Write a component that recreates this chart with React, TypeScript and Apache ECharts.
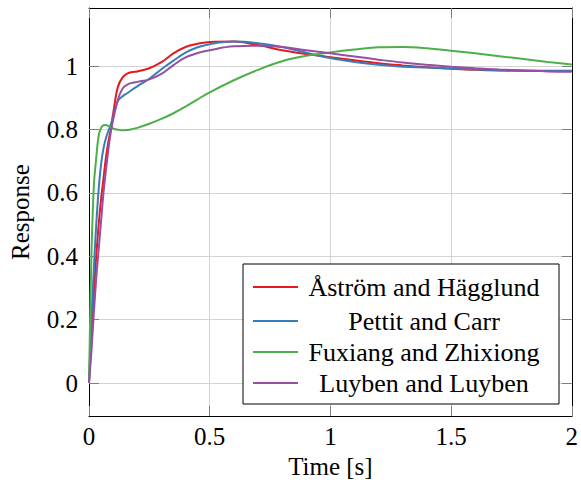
import React, { useEffect, useRef } from "react";
import * as echarts from "echarts";

const times = [0, 0.01, 0.02, 0.03, 0.04, 0.05, 0.06, 0.07, 0.08, 0.09, 0.1, 0.12, 0.14, 0.16, 0.18, 0.2, 0.25, 0.3, 0.35, 0.4, 0.45, 0.5, 0.6, 0.7, 0.8, 0.9, 1.0, 1.1, 1.2, 1.3, 1.4, 1.5, 1.6, 1.7, 1.8, 1.9, 2.0];

const astromHagglund = [0, 0.14, 0.28, 0.4, 0.5, 0.58, 0.645, 0.71, 0.76, 0.80, 0.85, 0.935, 0.965, 0.977, 0.981, 0.983, 0.993, 1.012, 1.04, 1.06, 1.07, 1.076, 1.077, 1.066, 1.05, 1.038, 1.028, 1.018, 1.009, 1.002, 0.996, 0.991, 0.988, 0.986, 0.985, 0.985, 0.985];

const pettitCarr = [0, 0.2, 0.36, 0.5, 0.61, 0.69, 0.74, 0.772, 0.795, 0.815, 0.84, 0.89, 0.905, 0.915, 0.926, 0.936, 0.96, 0.99, 1.017, 1.042, 1.059, 1.069, 1.077, 1.072, 1.06, 1.042, 1.025, 1.013, 1.004, 0.998, 0.995, 0.992, 0.989, 0.987, 0.985, 0.984, 0.984];

const fuxiangZhixiong = [0, 0.4, 0.62, 0.71, 0.78, 0.805, 0.813, 0.814, 0.811, 0.807, 0.803, 0.799, 0.797, 0.798, 0.801, 0.805, 0.818, 0.833, 0.851, 0.872, 0.895, 0.917, 0.955, 0.988, 1.015, 1.032, 1.043, 1.052, 1.059, 1.06, 1.056, 1.048, 1.04, 1.031, 1.022, 1.013, 1.005];

const luybenLuyben = [0, 0.1, 0.22, 0.33, 0.42, 0.51, 0.6, 0.67, 0.735, 0.79, 0.83, 0.895, 0.93, 0.942, 0.947, 0.95, 0.958, 0.975, 1.003, 1.027, 1.041, 1.05, 1.062, 1.064, 1.06, 1.05, 1.04, 1.03, 1.02, 1.011, 1.004, 0.998, 0.993, 0.989, 0.986, 0.983, 0.982];

const seriesNames = ["Åström and Hägglund", "Pettit and Carr", "Fuxiang and Zhixiong", "Luyben and Luyben"];
const seriesValues = [astromHagglund, pettitCarr, fuxiangZhixiong, luybenLuyben];
const colors = ["#e41a1c", "#377eb8", "#4daf4a", "#984ea3"];

const yTicks = [0, 0.2, 0.4, 0.6, 0.8, 1];

const FONT = "serif";

export default function App() {
  const ref = useRef<HTMLDivElement>(null);
  useEffect(() => {
    document.body.style.margin = "0";
    const chart = echarts.init(ref.current!, null, { renderer: "svg" });
    const gridLeft = 88, gridTop = 8, gridW = 485, gridH = 408;
    const legX = 243, legY = 264, legW = 316, legH = 140;
    const rowY = [287, 321, 352, 383];
    const tickStyle = { show: true, inside: true, length: 10, lineStyle: { color: "#7f7f7f", width: 1 } };
    const axisLine = { show: true, onZero: false, lineStyle: { color: "#000", width: 1 } };
    const legendGraphics: any[] = [
      { type: "rect", shape: { x: legX, y: legY, width: legW, height: legH }, style: { fill: "#fff", stroke: "#000", lineWidth: 1 }, z: 100 },
    ];
    seriesNames.forEach((n, i) => {
      legendGraphics.push({ type: "line", shape: { x1: 253, y1: rowY[i], x2: 298, y2: rowY[i] }, style: { stroke: colors[i], lineWidth: 2 }, z: 101 });
      legendGraphics.push({ type: "text", x: 424, y: rowY[i], style: { text: n, fill: "#000", fontFamily: FONT, fontSize: 26, align: "center", verticalAlign: "middle" }, z: 101 });
    });
    chart.setOption({
      animation: false,
      backgroundColor: "#fff",
      textStyle: { fontFamily: FONT },
      grid: { left: gridLeft, top: gridTop, width: gridW, height: gridH, containLabel: false },
      xAxis: [
        {
          type: "value", min: 0, max: 2, interval: 0.5, position: "bottom",
          axisLine, axisTick: tickStyle,
          axisLabel: { color: "#000", fontFamily: FONT, fontSize: 25, margin: 8, formatter: (v: number) => String(v) },
          splitLine: { show: true, lineStyle: { color: "#d4d4d4", width: 1 } },
          name: "Time [s]", nameLocation: "middle", nameGap: 38,
          nameTextStyle: { color: "#000", fontFamily: FONT, fontSize: 25 },
        },
        {
          type: "value", min: 0, max: 2, interval: 0.5, position: "top",
          axisLine, axisTick: tickStyle, axisLabel: { show: false }, splitLine: { show: false },
        },
      ],
      yAxis: [
        {
          type: "value", min: -0.104, max: 1.183, position: "left",
          axisLine, axisTick: { ...tickStyle, customValues: yTicks },
          axisLabel: { color: "#000", fontFamily: FONT, fontSize: 25, margin: 11, customValues: yTicks, formatter: (v: number) => String(Math.round(v * 10) / 10) },
          splitLine: { show: true, lineStyle: { color: "#d4d4d4", width: 1 } },
          name: "Response", nameLocation: "middle", nameGap: 56,
          nameTextStyle: { color: "#000", fontFamily: FONT, fontSize: 25 },
        },
        {
          type: "value", min: -0.104, max: 1.183, position: "right",
          axisLine, axisTick: { ...tickStyle, customValues: yTicks }, axisLabel: { show: false, customValues: yTicks }, splitLine: { show: false },
        },
      ],
      series: seriesNames.map((n, i) => ({
        name: n,
        type: "line",
        data: times.map((t, j) => [t, seriesValues[i][j]]),
        smooth: 0.4,
        showSymbol: false,
        symbol: "none",
        lineStyle: { color: colors[i], width: 2 },
        itemStyle: { color: colors[i] },
        clip: true,
        z: 2 + i,
      })),
      graphic: legendGraphics,
    });
    return () => chart.dispose();
  }, []);
  return <div ref={ref} style={{ width: 581, height: 485 }} />;
}
